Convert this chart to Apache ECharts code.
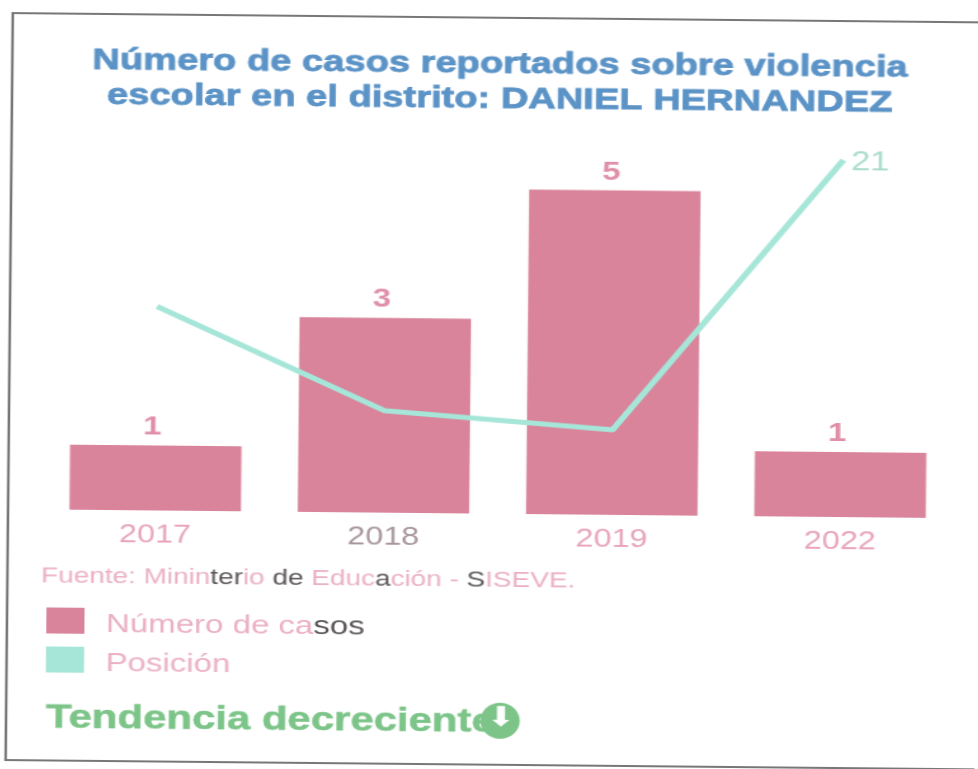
<!DOCTYPE html>
<html><head><meta charset="utf-8">
<style>html,body{margin:0;padding:0;background:#fff;overflow:hidden}
#c{position:absolute;left:4px;top:0;width:770px;height:769px;transform:rotate(0.55deg) scale(1.27,1);transform-origin:0 0}</style>
<script src="https://cdn.jsdelivr.net/npm/echarts@6/dist/echarts.min.js"></script>
</head><body><div id="c"></div>
<script>
const categories = ['2017','2018','2019','2022'];
const casos = [1,3,5,1];
const posicion = [12,6,5,21];
const titleText = 'Número de casos reportados sobre violencia\nescolar en el distrito: DANIEL HERNANDEZ';
const trendText = 'Tendencia decreciente';
const pink='#ebb0c4', dark='#5a5558';
const chart = echarts.init(document.getElementById('c'),null,{renderer:'canvas'});
const font='"Liberation Sans", Arial, sans-serif';
const lab=(size)=>({p:{color:pink,fontSize:size,fontFamily:font},d:{color:dark,fontSize:size,fontFamily:font}});
const labG=(size)=>({p:{fill:pink,fontSize:size,fontFamily:font},d:{fill:dark,fontSize:size,fontFamily:font}});
chart.setOption({
  animation:false,
  backgroundColor:'#fff',
  title:{text:titleText,left:386,top:37,textAlign:'center',
    textStyle:{color:'#5b93c7',fontSize:30,fontWeight:'bold',fontFamily:font,lineHeight:35,textBorderColor:'#5b93c7',textBorderWidth:0.8}},
  grid:{left:33,width:719,top:152,height:357},
  xAxis:{type:'category',data:categories,axisLine:{show:false},axisTick:{show:false},
    axisLabel:{color:v=>v==='2018'?'#a8979d':'#e8a5bb',fontSize:25.5,fontFamily:font,margin:12}},
  yAxis:[{type:'value',min:0,max:5.5,show:false},{type:'value',min:0,max:21,show:false}],
  legend:{show:true,orient:'vertical',left:38,top:607,itemWidth:30,itemHeight:26,itemGap:9,padding:0,
    icon:'rect',data:['Número de casos','Posición'],
    formatter:n=>n==='Número de casos'?'{p|Número de ca}{d|sos}':'{p|Posición}',
    textStyle:{fontSize:26,fontFamily:font,padding:[8,0,0,12],rich:lab(26)}},
  series:[
    {name:'Número de casos',type:'bar',data:casos,barWidth:135,itemStyle:{color:'#d9849b'},
     label:{show:true,position:'top',offset:[-3,0],color:'#e08fa8',fontSize:26,fontWeight:'bold',fontFamily:font,distance:5}},
    {name:'Posición',type:'line',yAxisIndex:1,data:posicion,symbol:'none',smooth:false,clip:false,
     lineStyle:{color:'#a6e6d8',width:5},itemStyle:{color:'#a6e6d8'},
     endLabel:{show:true,distance:6,color:'#a8dccb',fontSize:27,fontFamily:font,offset:[0,3],formatter:'{c}'}}
  ],
  graphic:[
    {type:'rect',silent:true,shape:{x:7,y:13,width:775,height:747},style:{fill:'none',stroke:'#777',lineWidth:2}},
    {type:'text',x:33.5,y:565,style:{text:'{p|Fuente: Minin}{d|ter}{p|io }{d|de}{p| Edu}{p|c}{d|a}{p|ción - }{d|S}{p|ISEVE.}',
      fontSize:22,fontFamily:font,rich:labG(22)}},
    {type:'text',x:38.5,y:701,style:{text:trendText,fill:'#7cc488',fontSize:33,fontWeight:'bold',fontFamily:font,stroke:'#7cc488',lineWidth:0.5}},
    {type:'ellipse',shape:{cx:396,cy:716,rx:15.5,ry:18},style:{fill:'#7cc488'}},
    {type:'text',x:385.5,y:700,style:{text:'⬇',fill:'#fff',fontSize:27,fontFamily:'DejaVu Sans'}}
  ]
});
</script></body></html>
